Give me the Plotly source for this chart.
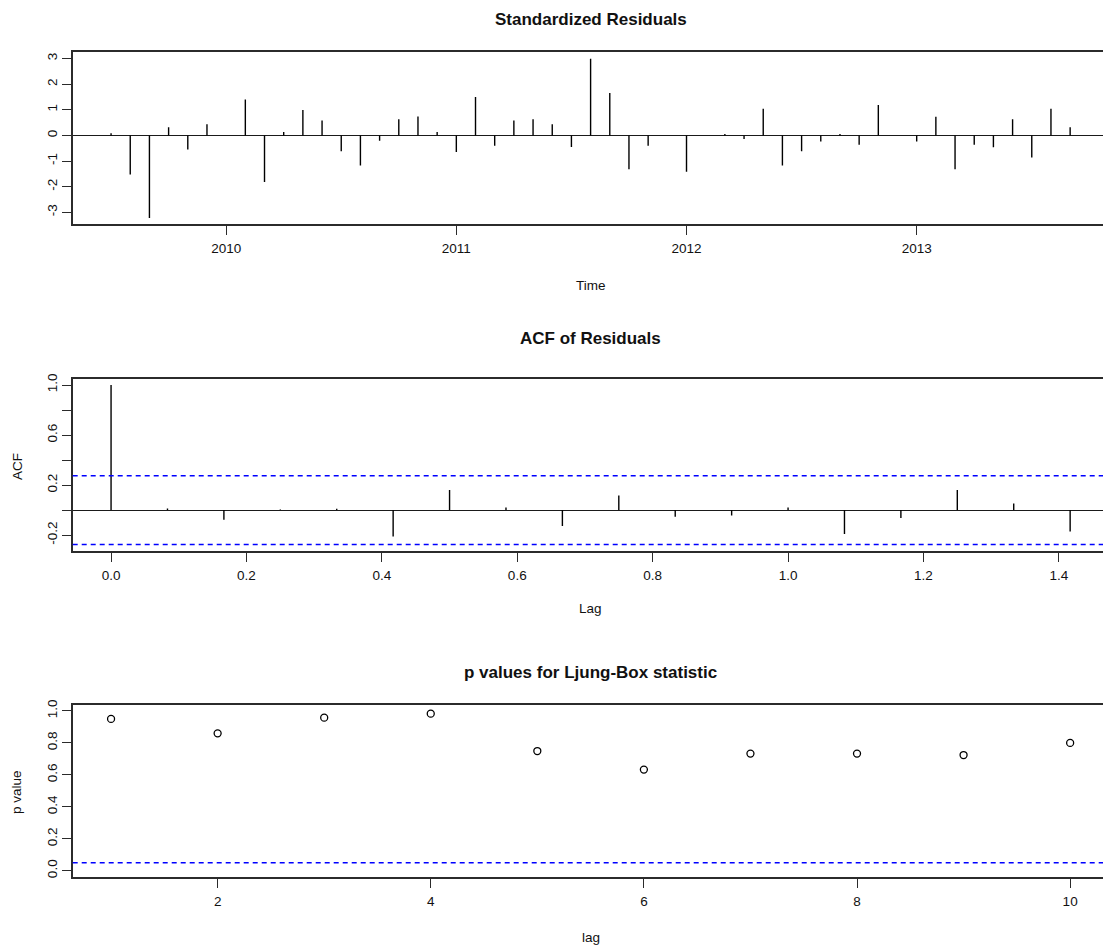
import plotly.graph_objects as go

W, H = 1103, 949

# ---------------- data ----------------
# Standardized residuals, monthly, July 2009 .. September 2013
res_start = 2009.5
res_freq = 12
std_resid = [0.08, -1.53, -3.22, 0.32, -0.55, 0.44,
             0.0, 1.40, -1.82, 0.13, 0.99, 0.58, -0.62, -1.17, -0.21, 0.63, 0.74, 0.13,
             -0.65, 1.50, -0.40, 0.58, 0.63, 0.44, -0.45, 2.99, 1.65, -1.32, -0.40, 0.0,
             -1.42, 0.0, 0.05, -0.14, 1.04, -1.17, -0.62, -0.24, 0.05, -0.36, 1.19, 0.0,
             -0.24, 0.73, -1.32, -0.36, -0.46, 0.63, -0.86, 1.04, 0.32]
time_ticks = [2010, 2011, 2012, 2013]

# ACF of residuals (lags in years, 1/12 steps)
acf_vals = [1.0, 0.013, -0.078, 0.004, 0.01, -0.21, 0.16, 0.02, -0.128, 0.117,
            -0.053, -0.043, 0.02, -0.19, -0.064, 0.16, 0.053, -0.17]
acf_xticks = [0.0, 0.2, 0.4, 0.6, 0.8, 1.0, 1.2, 1.4]
acf_yticks = [-0.2, 0.0, 0.2, 0.4, 0.6, 0.8, 1.0]
acf_ylabels = ["-0.2", "", "0.2", "", "0.6", "", "1.0"]

# Ljung-Box p values
lb_lags = [1, 2, 3, 4, 5, 6, 7, 8, 9, 10]
lb_pvals = [0.95, 0.86, 0.958, 0.983, 0.749, 0.633, 0.733, 0.733, 0.724, 0.80]
lb_xticks = [2, 4, 6, 8, 10]
lb_yticks = [0.0, 0.2, 0.4, 0.6, 0.8, 1.0]
lb_sig = 0.05

# ---------------- helpers ----------------
n_obs = len(std_resid)
times = [res_start + i / res_freq for i in range(n_obs)]
lags = [i / res_freq for i in range(len(acf_vals))]
ci = 1.96 / n_obs ** 0.5

LEFT, R_RIGHT = 72.7, 1108.5
crop = (W - LEFT) / (R_RIGHT - LEFT)


def rrange(lo, hi):
    s = hi - lo
    return lo - 0.04 * s, hi + 0.04 * s


def xr(lo, hi):
    a, b = rrange(lo, hi)
    return [a, a + (b - a) * crop]


def ydom(top, bot):
    return [1 - bot / H, 1 - top / H]


def spikes(xs, ys):
    X, Y = [], []
    for a, b in zip(xs, ys):
        X += [a, a, None]
        Y += [0, b, None]
    return X, Y


FONT = "Liberation Sans, Arial, sans-serif"
TXT = "#111111"
AX = "#2b2b2b"

fig = go.Figure()

sx, sy = spikes(times, std_resid)
fig.add_trace(go.Scatter(x=sx, y=sy, mode="lines", line=dict(color="black", width=1.4),
                         xaxis="x", yaxis="y", showlegend=False, hoverinfo="skip"))
ax_, ay_ = spikes(lags, acf_vals)
fig.add_trace(go.Scatter(x=ax_, y=ay_, mode="lines", line=dict(color="black", width=1.4),
                         xaxis="x2", yaxis="y2", showlegend=False, hoverinfo="skip"))
fig.add_trace(go.Scatter(x=lb_lags, y=lb_pvals, mode="markers",
                         marker=dict(symbol="circle-open", size=7, color="black",
                                     line=dict(width=1.3, color="black")),
                         xaxis="x3", yaxis="y3", showlegend=False, hoverinfo="skip"))

common_x = dict(showgrid=False, zeroline=False, showline=True, mirror=True, linecolor=AX,
                linewidth=1.5, ticks="outside", ticklen=9, tickwidth=1.3, tickcolor=AX,
                tickfont=dict(family=FONT, size=13.5, color=TXT), ticklabelstandoff=2,
                domain=[LEFT / W, 1.0])
common_y = dict(showgrid=False, showline=True, mirror=False, linecolor=AX, linewidth=1.5,
                ticks="outside", ticklen=9, tickwidth=1.3, tickcolor=AX, tickangle=-90,
                tickfont=dict(family=FONT, size=13.5, color=TXT), ticklabelstandoff=0)

rmin, rmax = min(std_resid), max(std_resid)
amin, amax = min(min(acf_vals), -ci), max(max(acf_vals), ci)

fig.update_layout(
    width=W, height=H, margin=dict(l=0, r=0, t=0, b=0),
    paper_bgcolor="white", plot_bgcolor="white",
    font=dict(family=FONT, size=13.5, color=TXT),
    xaxis=dict(**common_x, anchor="y", range=xr(times[0], times[-1]),
               tickvals=time_ticks, ticktext=[str(t) for t in time_ticks]),
    yaxis=dict(**common_y, anchor="x", domain=ydom(47.7, 220.7), range=list(rrange(rmin, rmax)),
               tickvals=[-3, -2, -1, 0, 1, 2, 3], ticktext=["-3", "-2", "-1", "0", "1", "2", "3"],
               zeroline=True, zerolinecolor="#1a1a1a", zerolinewidth=1.3),
    xaxis2=dict(**common_x, anchor="y2", range=xr(lags[0], lags[-1]),
                tickvals=acf_xticks, ticktext=[f"{v:.1f}" for v in acf_xticks]),
    yaxis2=dict(**common_y, anchor="x2", domain=ydom(376.0, 549.3), range=list(rrange(amin, amax)),
                tickvals=acf_yticks, ticktext=acf_ylabels,
                zeroline=True, zerolinecolor="#1a1a1a", zerolinewidth=1.3),
    xaxis3=dict(**common_x, anchor="y3", range=xr(lb_lags[0], lb_lags[-1]),
                tickvals=lb_xticks, ticktext=[str(v) for v in lb_xticks]),
    yaxis3=dict(**common_y, anchor="x3", domain=ydom(704.0, 877.7), range=list(rrange(0, 1)),
                tickvals=lb_yticks, ticktext=[f"{v:.1f}" for v in lb_yticks], zeroline=False),
    hovermode=False,
)

for yref, yv in [("y2", ci), ("y2", -ci), ("y3", lb_sig)]:
    xref = "x2 domain" if yref == "y2" else "x3 domain"
    fig.add_shape(type="line", xref=xref, yref=yref, x0=0, x1=1, y0=yv, y1=yv,
                  line=dict(color="#0000ff", width=1.4, dash="5px,4px"))

CX = (LEFT + R_RIGHT) / 2


def ann(text, px, py, size=13.5, angle=0):
    fig.add_annotation(text=text, x=px / W, y=1 - py / H, xref="paper", yref="paper",
                       xanchor="center", yanchor="middle", showarrow=False, textangle=angle,
                       font=dict(family=FONT, size=size, color=TXT))


ann("<b>Standardized Residuals</b>", CX, 15, size=17)
ann("<b>ACF of Residuals</b>", CX, 336, size=17)
ann("<b>p values for Ljung-Box statistic</b>", CX, 672, size=17)
ann("Time", CX, 282.5)
ann("Lag", CX, 607)
ann("lag", CX, 938)
ann("ACF", 17, 465, angle=-90)
ann("p value", 17, 792, angle=-90)

fig.write_html("out.html", config={"displayModeBar": False},
               post_script="document.body.style.margin='0';document.body.style.overflow='hidden';")
